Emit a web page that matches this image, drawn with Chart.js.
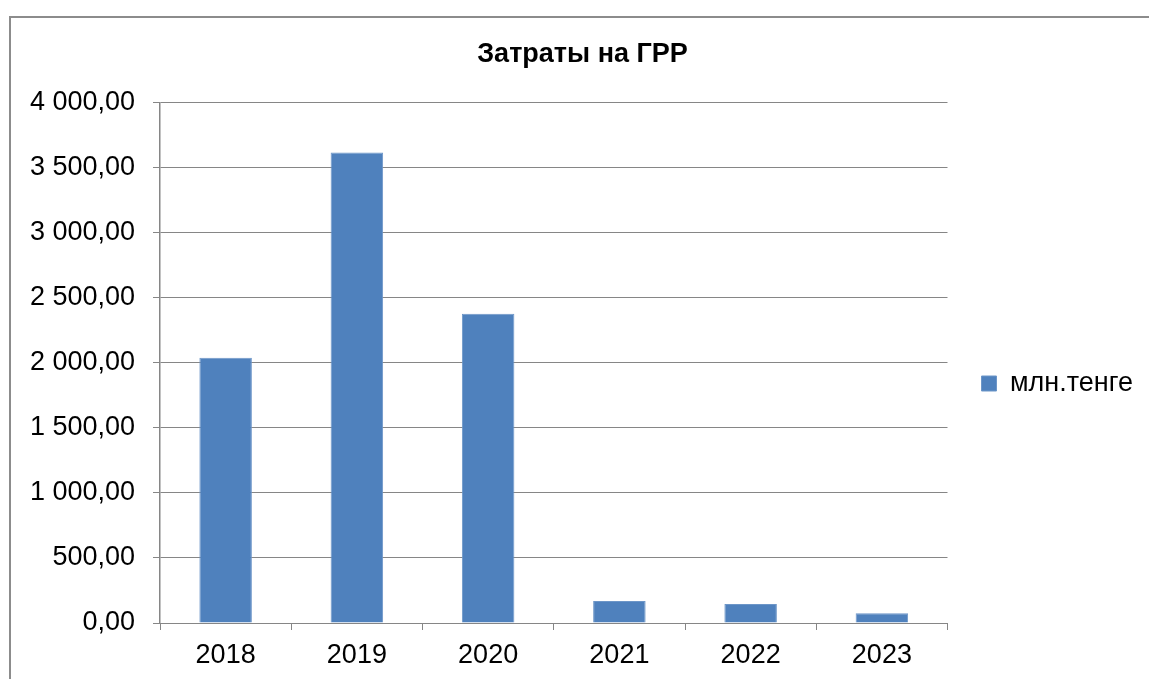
<!DOCTYPE html>
<html>
<head>
<meta charset="utf-8">
<script src="https://cdn.jsdelivr.net/npm/chart.js@4/dist/chart.umd.min.js"></script>
<style>
  body { margin: 0; background: #fff; overflow: hidden; }
  #frame { position: absolute; left: 9px; top: 16px; width: 1200px; height: 700px;
           border-left: 2px solid #8c8c8c; border-top: 2px solid #8c8c8c; }
  #wrap { position: absolute; left: 0; top: 0; width: 1149px; height: 679px; }
</style>
</head>
<body>
<div id="frame"></div>
<div id="wrap"><canvas id="costChart"></canvas></div>
<script>
// Затраты на ГРР, млн.тенге
const years = ['2018', '2019', '2020', '2021', '2022', '2023'];
const costs = [2038, 3615, 2376, 169, 146, 74];
const seriesName = 'млн.тенге';

const gridGray = '#868686';
const fontFam = 'Liberation Sans, Arial, sans-serif';

function fmtTick(v) {
    const s = Math.round(v).toString().replace(/\B(?=(\d{3})+(?!\d))/g, ' ');
    return s + ',00';
}

const ctx = document.getElementById('costChart');
new Chart(ctx.getContext('2d'), {
    type: 'bar',
    data: {
        labels: years,
        datasets: [{
            label: seriesName,
            data: costs,
            backgroundColor: '#4f81bd',
            borderColor: '#6d96c8',
            borderWidth: 1,
            barPercentage: 0.4,
            categoryPercentage: 1.0
        }]
    },
    options: {
        responsive: true,
        maintainAspectRatio: false,
        animation: false,
        layout: { padding: { left: 22, right: 6, top: 0, bottom: 0 } },
        plugins: {
            title: {
                display: true,
                text: 'Затраты на ГРР',
                color: '#000',
                font: { family: fontFam, size: 27, weight: 'bold' },
                padding: { top: 38, bottom: 32 }
            },
            legend: {
                position: 'right',
                // blank legend title only pushes the entry down
                title: { display: true, text: ' ', font: { size: 10 }, padding: 38 },
                labels: {
                    color: '#000',
                    boxWidth: 15,
                    boxHeight: 15,
                    padding: 34,
                    font: { family: fontFam, size: 27 }
                }
            },
            tooltip: { enabled: false }
        },
        scales: {
            x: {
                grid: { drawOnChartArea: false, drawTicks: true, tickLength: 7, color: gridGray },
                border: { color: gridGray, width: 1 },
                ticks: {
                    color: '#000',
                    padding: 9,
                    font: { family: fontFam, size: 27 }
                },
                afterFit: function(scale) { scale.height = 56; }
            },
            y: {
                min: 0,
                max: 4000,
                grid: { color: gridGray, tickLength: 7 },
                border: { color: gridGray, width: 1.5 },
                ticks: {
                    stepSize: 500,
                    color: '#000',
                    padding: 18,
                    font: { family: fontFam, size: 27 },
                    callback: function(value) { return fmtTick(value); }
                },
                afterFit: function(scale) { scale.width = 138; }
            }
        }
    }
});
</script>
</body>
</html>
